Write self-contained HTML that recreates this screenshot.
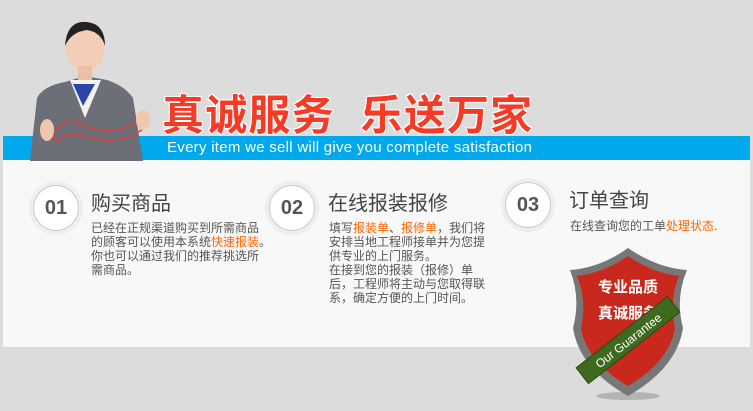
<!DOCTYPE html>
<html><head><meta charset="utf-8">
<style>
*{margin:0;padding:0;box-sizing:border-box}
body{width:753px;height:411px;background:#dcdcdc;position:relative;overflow:hidden;font-family:"Liberation Sans","Noto Sans CJK SC",sans-serif}
.abs{position:absolute}
#blue{left:3px;top:136px;width:747px;height:24px;background:#00a9ec}
#panel{left:3px;top:160px;width:747px;height:187px;background:#f8f8f8}
#title{left:162px;top:82px;font-size:42px;font-weight:bold;color:#f53a25;letter-spacing:1.2px;text-shadow:0 0 2px #fff,1px 1px 0 #fff,-1px -1px 0 #fff,1px -1px 0 #fff,-1px 1px 0 #fff;white-space:nowrap}
#sub{left:167px;top:139px;font-size:15px;color:#fff;white-space:nowrap;letter-spacing:0.28px}
.circ{width:46px;height:46px;border-radius:50%;background:#fff;border:1px solid #ccc;box-shadow:0 0 0 4px #eee;font-size:20px;font-weight:bold;color:#555;text-align:center;line-height:44px}
.h{font-size:20px;color:#444;white-space:nowrap}
.t{font-size:12px;line-height:14px;color:#555;width:182px}
.o{color:#f60}
</style></head><body>
<div id="blue" class="abs"></div>
<div id="panel" class="abs"></div>
<svg class="abs" style="left:25px;top:18px" width="135" height="143">
<path d="M5 143 L12 80 Q18 68 40 64 L60 58 L82 62 Q100 68 108 80 L118 143Z" fill="#6c6f78"/>
<path d="M45 62 L60 100 L76 62Z" fill="#f2f2f2"/>
<path d="M48 66 L58 88 L70 66Z" fill="#2a44a8"/>
<ellipse cx="60" cy="30" rx="19" ry="24" fill="#f3cdb5"/>
<path d="M40 28 Q42 2 62 4 Q80 6 80 28 Q76 14 62 12 Q46 14 40 28Z" fill="#222"/>
<rect x="53" y="48" width="14" height="14" fill="#eac0a8"/>
<path d="M28 118 Q40 95 60 108 Q90 120 118 100 L122 108 Q95 130 60 118 Q42 112 32 124Z" fill="none" stroke="#e04040" stroke-width="1.5"/>
<ellipse cx="22" cy="112" rx="7" ry="11" fill="#f0c8b0"/>
<ellipse cx="118" cy="102" rx="7" ry="10" fill="#f0c8b0"/>
</svg>
<div id="title" class="abs">真诚服务&nbsp;&nbsp;乐送万家</div>
<div id="sub" class="abs">Every item we sell will give you complete satisfaction</div>

<div class="abs circ" style="left:33px;top:185px">01</div>
<div class="abs h" style="left:91px;top:187px">购买商品</div>
<div class="abs t" style="left:91px;top:221px">已经在正规渠道购买到所需商品<br>的顾客可以使用本系统<span class="o">快速报装</span>。<br>你也可以通过我们的推荐挑选所<br>需商品。</div>

<div class="abs circ" style="left:269px;top:185px">02</div>
<div class="abs h" style="left:328px;top:187px">在线报装报修</div>
<div class="abs t" style="left:329px;top:221px;width:175px">填写<span class="o">报装单</span>、<span class="o">报修单</span>，我们将<br>安排当地工程师接单并为您提<br>供专业的上门服务。<br>在接到您的报装（报修）单<br>后，工程师将主动与您取得联<br>系，确定方便的上门时间。</div>

<div class="abs circ" style="left:505px;top:182px">03</div>
<div class="abs h" style="left:569px;top:184px">订单查询</div>
<div class="abs t" style="left:570px;top:219px;width:180px">在线查询您的工单<span class="o">处理状态</span>.</div>

<svg class="abs" style="left:565px;top:248px" width="130" height="160">
<ellipse cx="63" cy="148" rx="32" ry="4" fill="#999" opacity=".6"/>
<path d="M5 22 Q35 20 63 0 Q92 20 122 22 Q110 50 118 80 Q112 120 63 148 Q14 120 8 80 Q16 50 5 22Z" fill="#777"/>
<path d="M12 28 Q38 25 63 8 Q88 25 114 28 Q104 52 110 80 Q104 114 63 138 Q22 114 16 80 Q22 52 12 28Z" fill="#c8291c"/>
<text x="63" y="44" font-size="15" font-weight="bold" fill="#fff" text-anchor="middle" font-family="Liberation Sans,Noto Sans CJK SC,sans-serif">专业品质</text>
<text x="63" y="70" font-size="15" font-weight="bold" fill="#fff" text-anchor="middle" font-family="Liberation Sans,Noto Sans CJK SC,sans-serif">真诚服务</text>
<g transform="translate(63,92) rotate(-38)">
<rect x="-58" y="-10" width="116" height="20" fill="#3d6a1e" stroke="#2a4a12"/>
<text x="0" y="5" font-size="12" fill="#fff" text-anchor="middle">Our Guarantee</text>
</g>
</svg>
</body></html>
